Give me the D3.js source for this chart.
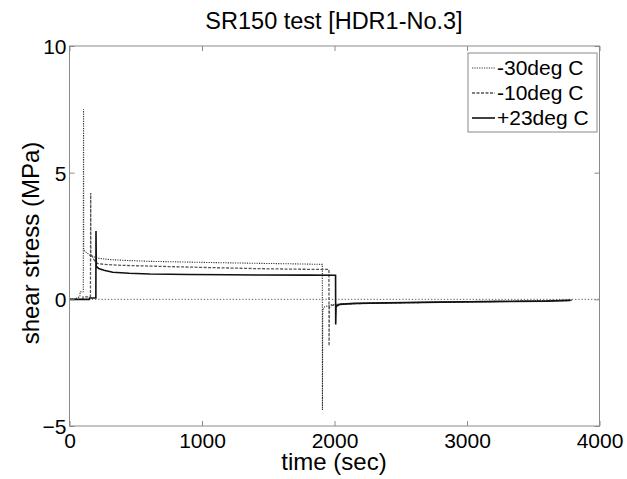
<!DOCTYPE html>
<html>
<head>
<meta charset="utf-8">
<script src="https://cdn.jsdelivr.net/npm/d3@7"></script>
<style>
  body { margin: 0; background: #fff; }
  svg { font-family: "Liberation Sans", Arial, sans-serif; }
</style>
</head>
<body>
<svg width="627" height="479"></svg>
<script>
// data: time (sec) / shear stress (MPa)
var timeM30 = [0, 50, 52, 78, 80, 104, 106, 107, 120, 150, 205, 300, 450, 606, 900, 1200, 1438, 1700, 1908, 1909, 1911, 1925, 1970, 2050, 2200, 2600, 2950, 3400, 3800];
var stressM30 = [0, 0, 0.05, 0.1, 0.3, 0.3, 7.5, 1.95, 1.88, 1.75, 1.63, 1.57, 1.53, 1.5, 1.47, 1.44, 1.42, 1.4, 1.38, -4.37, -0.42, -0.3, -0.22, -0.18, -0.16, -0.12, -0.09, -0.06, -0.03];

var timeM10 = [0, 100, 102, 158, 160, 161, 175, 190, 210, 260, 400, 700, 1000, 1438, 1700, 1958, 1959, 1961, 1975, 2000, 2100, 2300, 2700, 3100, 3500, 3790];
var stressM10 = [0, 0, 0.1, 0.1, 4.2, 1.8, 1.65, 1.52, 1.42, 1.38, 1.34, 1.3, 1.26, 1.21, 1.19, 1.18, -1.84, -0.32, -0.25, -0.21, -0.18, -0.15, -0.12, -0.09, -0.07, -0.04];

var timeP23 = [0, 150, 152, 199, 200, 202, 220, 260, 326, 450, 606, 900, 1200, 1438, 1800, 2008, 2009, 2012, 2040, 2150, 2400, 2800, 3200, 3600, 3780];
var stressP23 = [0, 0, 0.05, 0.05, 2.7, 1.3, 1.22, 1.15, 1.07, 1.03, 1.0, 0.98, 0.97, 0.96, 0.955, 0.95, -0.99, -0.28, -0.2, -0.16, -0.14, -0.11, -0.09, -0.07, -0.04];

var seriesNames = ["-30deg C", "-10deg C", "+23deg C"];
var xTicks = [0, 1000, 2000, 3000, 4000];
var yTicks = [-5, 0, 5, 10];

var svg = d3.select("svg");
var m = { left: 69.5, right: 599.5, top: 46, bottom: 426 };

var x = d3.scaleLinear().domain([0, 4000]).range([m.left, m.right]);
var y = d3.scaleLinear().domain([-5, 10]).range([m.bottom, m.top]);

var axisCol = "#8a8a8a";

function toPts(t, v) {
  return t.map(function (d, i) { return [d, v[i]]; });
}

var series = [
  { name: seriesNames[0], pts: toPts(timeM30, stressM30), color: "#333", dash: "1.2,1.2", w: 1.1 },
  { name: seriesNames[1], pts: toPts(timeM10, stressM10), color: "#555", dash: "3,1.5", w: 1.3 },
  { name: seriesNames[2], pts: toPts(timeP23, stressP23), color: "#111", dash: null, w: 1.6 }
];

var line = d3.line()
  .x(function (d) { return x(d[0]); })
  .y(function (d) { return y(d[1]); });

// zero reference (dotted)
svg.append("line")
  .attr("x1", x(0)).attr("x2", x(4000))
  .attr("y1", y(0)).attr("y2", y(0))
  .attr("stroke", "#555")
  .attr("stroke-width", 1)
  .attr("stroke-dasharray", "1.2,2");

svg.selectAll("path.series")
  .data(series)
  .enter().append("path")
  .attr("class", "series")
  .attr("d", function (d) { return line(d.pts); })
  .attr("fill", "none")
  .attr("stroke", function (d) { return d.color; })
  .attr("stroke-width", function (d) { return d.w; })
  .attr("stroke-dasharray", function (d) { return d.dash; });

// box + inward ticks, matlab style
svg.append("rect")
  .attr("x", m.left).attr("y", m.top)
  .attr("width", m.right - m.left).attr("height", m.bottom - m.top)
  .attr("fill", "none").attr("stroke", axisCol).attr("stroke-width", 1);

var fmt = d3.format("d");
var xAx = svg.append("g")
  .attr("transform", "translate(0," + m.bottom + ")")
  .call(d3.axisBottom(x).tickValues(xTicks).tickFormat(fmt).tickSizeInner(-5).tickSizeOuter(0).tickPadding(7));
var xTop = svg.append("g")
  .attr("transform", "translate(0," + m.top + ")")
  .call(d3.axisTop(x).tickValues(xTicks).tickSizeInner(-5).tickSizeOuter(0).tickFormat(""));
var yAx = svg.append("g")
  .attr("transform", "translate(" + m.left + ",0)")
  .call(d3.axisLeft(y).tickValues(yTicks).tickFormat(fmt).tickSizeInner(-5).tickSizeOuter(0).tickPadding(3));
var yRight = svg.append("g")
  .attr("transform", "translate(" + m.right + ",0)")
  .call(d3.axisRight(y).tickValues(yTicks).tickSizeInner(-5).tickSizeOuter(0).tickFormat(""));

[xAx, xTop, yAx, yRight].forEach(function (g) {
  g.select(".domain").remove();
  g.selectAll("line").attr("stroke", axisCol);
  g.selectAll("text").attr("fill", "#000").style("font-size", "21px");
});
yAx.selectAll("text").attr("dy", "0.35em");

// titles
svg.append("text")
  .attr("x", 334).attr("y", 28.5)
  .attr("text-anchor", "middle")
  .style("font-size", "23.5px")
  .text("SR150 test [HDR1-No.3]");

svg.append("text")
  .attr("x", 334).attr("y", 470)
  .attr("text-anchor", "middle")
  .style("font-size", "24px")
  .text("time (sec)");

svg.append("text")
  .attr("transform", "translate(39,243) rotate(-90)")
  .attr("text-anchor", "middle")
  .style("font-size", "24px")
  .text("shear stress (MPa)");

// legend
var lg = svg.append("g").attr("transform", "translate(468,53)");
lg.append("rect")
  .attr("width", 129).attr("height", 79)
  .attr("fill", "#fff").attr("stroke", axisCol);

var rows = lg.selectAll("g.row")
  .data(series)
  .enter().append("g")
  .attr("class", "row")
  .attr("transform", function (d, i) { return "translate(0," + (15 + i * 25) + ")"; });
rows.append("line")
  .attr("x1", 4).attr("x2", 27)
  .attr("stroke", function (d) { return d.color; })
  .attr("stroke-width", function (d) { return d.w; })
  .attr("stroke-dasharray", function (d) { return d.dash; });
rows.append("text")
  .attr("x", 29).attr("dy", "0.35em")
  .style("font-size", "21px")
  .text(function (d) { return d.name; });
</script>
</body>
</html>
